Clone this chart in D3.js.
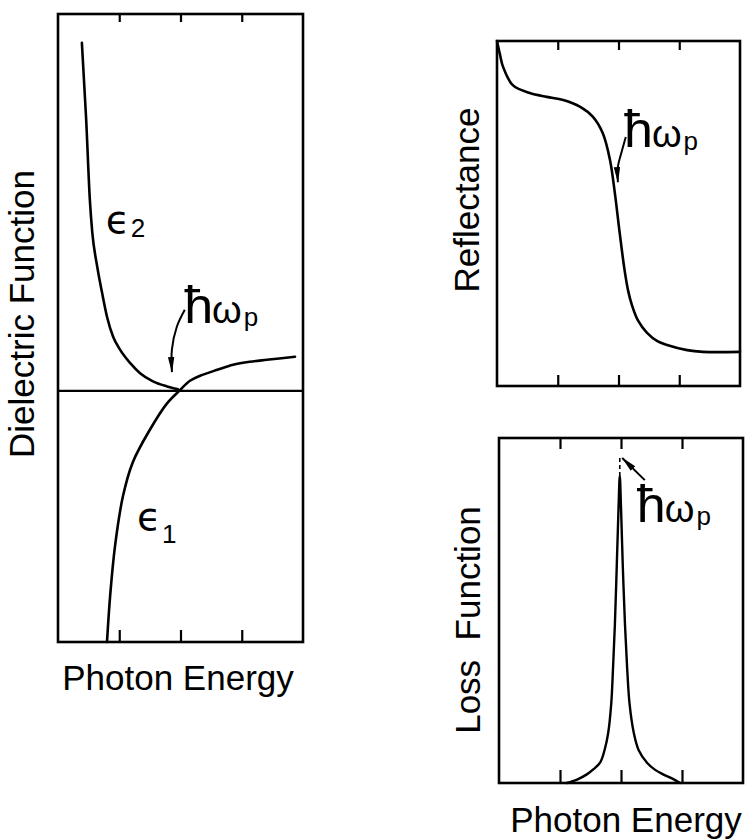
<!DOCTYPE html>
<html>
<head>
<meta charset="utf-8">
<script src="https://cdn.jsdelivr.net/npm/d3@7"></script>
<style>
  html, body { margin: 0; padding: 0; background: #fff; }
  svg { display: block; }
  text { font-family: "Liberation Sans", Arial, Helvetica, sans-serif; fill: #000; }
</style>
</head>
<body>
<svg id="chart" width="747" height="840"></svg>
<script>
// ---- data (photon energy in arbitrary units; plasmon energy at 2) ----
const energyTicks = [1, 2, 3];
const plasmonEnergy = 2;

// imaginary part of the dielectric function [energy, value]
const eps2 = [
  [0.39, 2.77], [0.46, 2.16], [0.52, 1.52], [0.56, 1.26], [0.64, 0.99],
  [0.72, 0.78], [0.80, 0.59], [0.90, 0.43], [1.01, 0.33], [1.18, 0.22],
  [1.34, 0.14], [1.55, 0.075], [1.78, 0.035], [1.96, 0.012]
];
// real part of the dielectric function [energy, value]
const eps1 = [
  [0.80, -2.0], [0.85, -1.64], [0.93, -1.24], [1.06, -0.84], [1.22, -0.57],
  [1.50, -0.31], [1.78, -0.10], [1.98, 0.0], [2.155, 0.08], [2.32, 0.12],
  [2.60, 0.167], [2.86, 0.207], [3.13, 0.231], [3.41, 0.247], [3.87, 0.271]
];
// normal-incidence reflectance [energy, R]
const reflectance = [
  [0.0, 1.0], [0.05, 0.96], [0.10, 0.925], [0.26, 0.872], [0.54, 0.849],
  [0.82, 0.838], [1.09, 0.829], [1.37, 0.809], [1.58, 0.780], [1.74, 0.733],
  [1.86, 0.655], [1.94, 0.559], [2.02, 0.443], [2.10, 0.336], [2.16, 0.275],
  [2.22, 0.235], [2.32, 0.19], [2.47, 0.154], [2.64, 0.13], [2.80, 0.119],
  [3.13, 0.104], [3.39, 0.099], [4.0, 0.099]
];
// energy-loss function -Im(1/eps) [energy, value]
const lossFunction = [
  [1.11, 0.0], [1.28, 0.01], [1.44, 0.025], [1.55, 0.040], [1.66, 0.060],
  [1.73, 0.095], [1.79, 0.145], [1.84, 0.23], [1.87, 0.336], [1.90, 0.46],
  [1.93, 0.626], [1.96, 0.80], [1.98, 0.89], [2.00, 0.80], [2.03, 0.626],
  [2.065, 0.46], [2.10, 0.336], [2.14, 0.23], [2.21, 0.145], [2.29, 0.095],
  [2.43, 0.058], [2.56, 0.038], [2.69, 0.025], [2.85, 0.012], [2.97, 0.0]
];

// annotation anchors in data units
const dielArrow = [[2.07, 0.645], [1.94, 0.51], [1.86, 0.33], [1.86, 0.15]];
const reflArrow = [[2.12, 0.722], [2.06, 0.684], [1.99, 0.635], [1.99, 0.591]];
const lossArrow = [[2.39, 0.878], [2.02, 0.942]];
const lossPeakTop = [[1.98, 0.89], [1.98, 0.95]];
const dielPlasmonLabel = [2.06, 0.54];
const reflPlasmonLabel = [2.09, 0.693];
const lossPlasmonLabel = [2.26, 0.757];
const eps2Label = [0.78, 1.26];
const eps1Label = [1.29, -1.107];

// text
const energyTitle = "Photon Energy";
const dielTitle = "Dielectric Function";
const reflTitle = "Reflectance";
const lossTitle = "Loss  Function";

// ---- layout ----
const svg = d3.select("#chart");
const INK = "#000";

const defs = svg.append("defs");
defs.append("marker")
  .attr("id", "head")
  .attr("markerUnits", "userSpaceOnUse")
  .attr("markerWidth", 16).attr("markerHeight", 8)
  .attr("refX", 15).attr("refY", 4)
  .attr("orient", "auto")
  .append("path")
  .attr("d", "M0,0.8 L16,4 L0,7.2 Z")
  .attr("fill", INK);

function panel(box, xDomain, yDomain, tickTop, tickBottom) {
  const x = d3.scaleLinear().domain(xDomain).range([box.x0, box.x1]);
  const y = d3.scaleLinear().domain(yDomain).range([box.y1, box.y0]);
  const g = svg.append("g");

  g.append("g")
    .attr("transform", `translate(0,${box.y0})`)
    .call(d3.axisTop(x).tickValues(energyTicks).tickSize(-tickTop).tickSizeOuter(0).tickFormat(""))
    .call(a => a.select(".domain").remove())
    .selectAll("line").attr("stroke", INK).attr("stroke-width", 2.2);

  g.append("g")
    .attr("transform", `translate(0,${box.y1})`)
    .call(d3.axisBottom(x).tickValues(energyTicks).tickSize(-tickBottom).tickSizeOuter(0).tickFormat(""))
    .call(a => a.select(".domain").remove())
    .selectAll("line").attr("stroke", INK).attr("stroke-width", 2.2);

  g.append("rect")
    .attr("x", box.x0).attr("y", box.y0)
    .attr("width", box.x1 - box.x0).attr("height", box.y1 - box.y0)
    .attr("fill", "none").attr("stroke", INK).attr("stroke-width", 2.6);

  return { x, y, g };
}

function curve(p, data, width, kind) {
  const line = d3.line()
    .x(d => p.x(d[0])).y(d => p.y(d[1]))
    .curve(kind || d3.curveMonotoneX);
  return p.g.append("path")
    .attr("d", line(data))
    .attr("fill", "none").attr("stroke", INK)
    .attr("stroke-width", width).attr("stroke-linejoin", "round").attr("stroke-linecap", "round");
}

function arrow(p, pts, kind) {
  const line = d3.line().x(d => p.x(d[0])).y(d => p.y(d[1])).curve(kind || d3.curveLinear);
  p.g.append("path")
    .attr("d", line(pts))
    .attr("fill", "none").attr("stroke", INK).attr("stroke-width", 2)
    .attr("marker-end", "url(#head)");
}

function plasmonLabel(p, at, subDy) {
  const t = p.g.append("text")
    .attr("x", p.x(at[0])).attr("y", p.y(at[1]));
  t.append("tspan").attr("font-size", 52).text("\u0127");
  t.append("tspan").attr("font-size", 38).attr("dx", -1).text("\u03C9");
  t.append("tspan").attr("font-size", 26).attr("dx", 2).attr("dy", subDy).text("p");
}

function epsLabel(p, at, sub, subDy) {
  const t = p.g.append("text")
    .attr("x", p.x(at[0])).attr("y", p.y(at[1]));
  t.append("tspan").attr("font-family", "'DejaVu Sans', sans-serif").attr("font-size", 39).text("\u03F5");
  t.append("tspan").attr("font-size", 26).attr("dx", 1).attr("dy", subDy).text(sub);
}

function yTitle(xPos, yPos, label) {
  svg.append("text")
    .attr("transform", `translate(${xPos},${yPos}) rotate(-90)`)
    .attr("text-anchor", "middle")
    .attr("font-size", 35)
    .style("white-space", "pre")
    .text(label);
}

function xTitle(xPos, yPos, label) {
  svg.append("text")
    .attr("x", xPos).attr("y", yPos)
    .attr("text-anchor", "middle")
    .attr("font-size", 35)
    .text(label);
}

// ---- dielectric function panel ----
const diel = panel({ x0: 58, x1: 303, y0: 14, y1: 642 }, [0, 4], [-2, 3], 8, 12);
diel.g.append("line")
  .attr("x1", diel.x(0)).attr("x2", diel.x(4))
  .attr("y1", diel.y(0)).attr("y2", diel.y(0))
  .attr("stroke", INK).attr("stroke-width", 2.2);
curve(diel, eps2, 2.6);
curve(diel, eps1, 2.6, d3.curveCatmullRom.alpha(0.5));
arrow(diel, dielArrow, d3.curveCatmullRom);
plasmonLabel(diel, dielPlasmonLabel, 3);
epsLabel(diel, eps2Label, "2", 4);
epsLabel(diel, eps1Label, "1", 13);
yTitle(34, 314, dielTitle);
xTitle(178, 690, energyTitle);

// ---- reflectance panel ----
const refl = panel({ x0: 497, x1: 740, y0: 41, y1: 386 }, [0, 4], [0, 1], 9, 11);
curve(refl, reflectance, 2.6, d3.curveCatmullRom.alpha(0.5));
arrow(refl, reflArrow, d3.curveCatmullRom);
plasmonLabel(refl, reflPlasmonLabel, 3);
yTitle(479, 200, reflTitle);

// ---- loss-function panel ----
const loss = panel({ x0: 499, x1: 743, y0: 438, y1: 783 }, [0, 4], [0, 1], 11, 13);
curve(loss, lossFunction, 2.4, d3.curveCatmullRom.alpha(0.5));
loss.g.append("path")
  .attr("d", d3.line().x(d => loss.x(d[0])).y(d => loss.y(d[1]))(lossPeakTop))
  .attr("stroke", INK).attr("stroke-width", 1.6).attr("stroke-dasharray", "4,3");
arrow(loss, lossArrow);
plasmonLabel(loss, lossPlasmonLabel, 3);
yTitle(480, 620, lossTitle);
xTitle(626, 832, energyTitle);
</script>
</body>
</html>
